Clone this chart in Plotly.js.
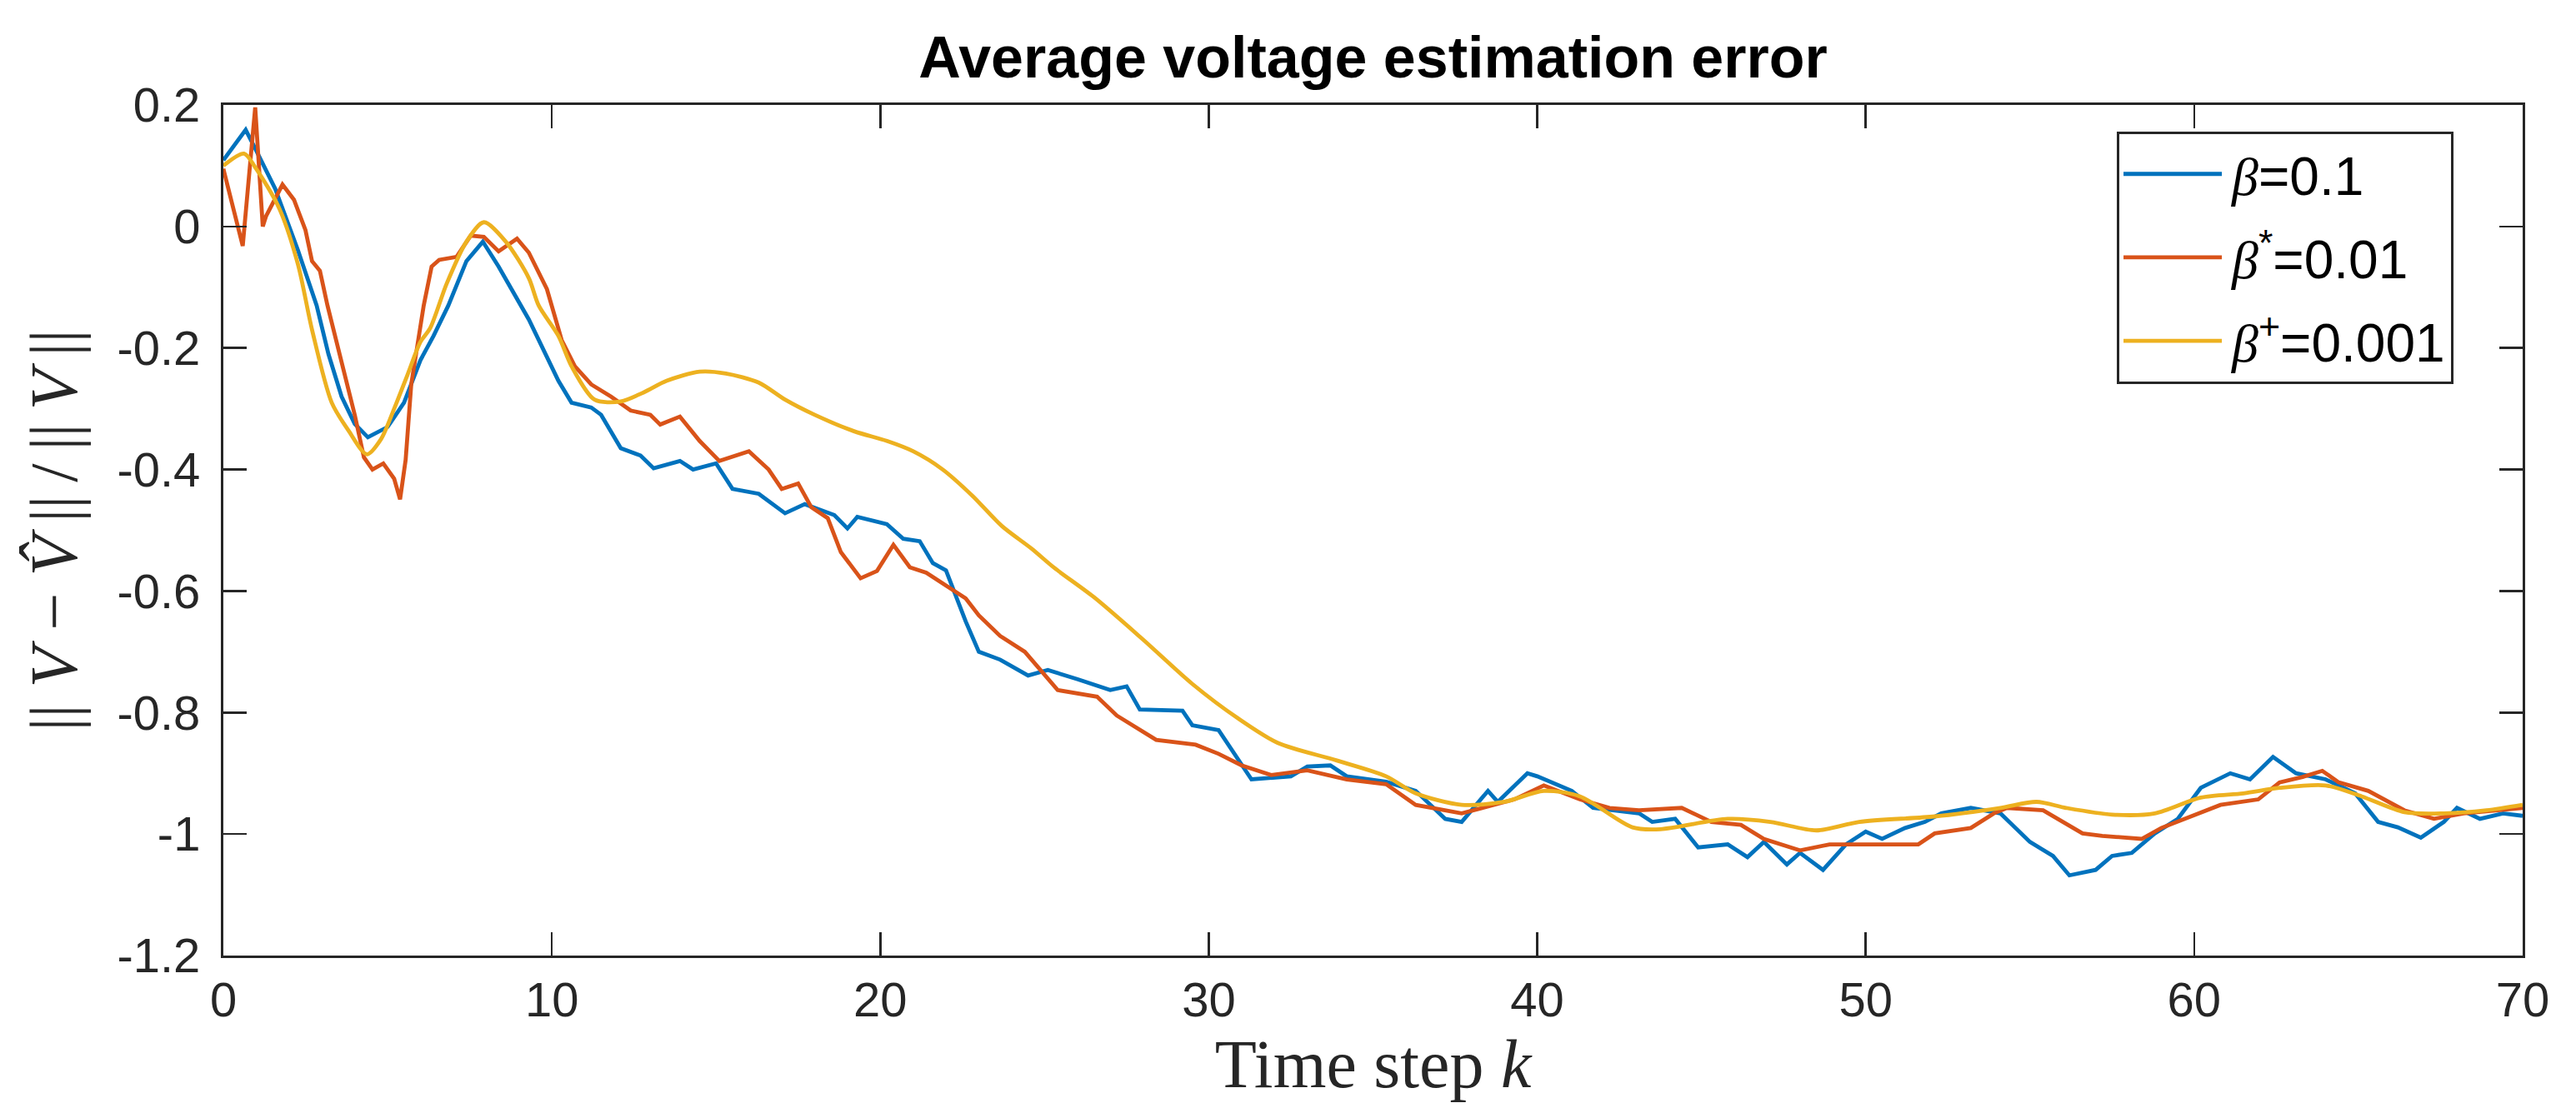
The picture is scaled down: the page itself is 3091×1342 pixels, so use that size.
<!DOCTYPE html>
<html>
<head>
<meta charset="utf-8">
<script src="https://cdn.plot.ly/plotly-3.0.1.min.js"></script>
<style>html,body{margin:0;padding:0;background:#fff;}#chart{width:3091px;height:1342px;}</style>
</head>
<body>
<div id="chart"></div>
<script>
// ---- data ----
const seriesNames = [
  '<span style="font-family:Liberation Serif"><i>β</i></span>=0.1',
  '<span style="font-family:Liberation Serif"><i>β</i></span><sup>*</sup>=0.01',
  '<span style="font-family:Liberation Serif"><i>β</i></span><sup>+</sup>=0.001'
];
const seriesColors = ['#0072BD', '#D95319', '#EDB120'];

const blueX = [0, 0.68, 1.0, 1.58, 2.27, 2.84, 3.2, 3.6, 4.0, 4.4,
  5.0, 5.5, 6.0, 6.4, 6.85, 7.4, 7.9, 8.38, 9.3, 10.2,
  10.6, 11.2, 11.5, 12.1, 12.7, 13.1, 13.9, 14.3, 15.0, 15.5,
  16.3, 17.1, 17.7, 18.6, 19.0, 19.3, 20.2, 20.7, 21.2, 21.6,
  22.0, 22.3, 22.6, 23.0, 23.65, 24.5, 25.1, 26.0, 27.0, 27.5,
  27.9, 29.2, 29.5, 30.3, 31.3, 32.5, 33.0, 33.7, 34.2, 35.4,
  36.3, 37.2, 37.7, 38.5, 38.8, 39.7, 40.0, 41.05, 41.7, 43.1,
  43.5, 44.2, 44.9, 45.8, 46.4, 46.9, 47.6, 48.0, 48.7, 49.4,
  50.0, 50.5, 51.2, 51.8, 52.3, 53.2, 54.1, 55.0, 55.7, 56.2,
  57.0, 57.5, 58.1, 58.8, 59.5, 60.2, 61.1, 61.7, 62.4, 63.1,
  64.0, 64.9, 65.6, 66.2, 66.9, 67.6, 68.0, 68.7, 69.4, 70.0];
const blueY = [0.109, 0.159, 0.125, 0.062, -0.039, -0.13, -0.21, -0.28, -0.325, -0.347,
  -0.33, -0.29, -0.22, -0.18, -0.13, -0.057, -0.025, -0.066, -0.153, -0.254,
  -0.29, -0.298, -0.31, -0.365, -0.377, -0.398, -0.386, -0.40, -0.39, -0.432,
  -0.44, -0.472, -0.457, -0.475, -0.497, -0.478, -0.49, -0.514, -0.518, -0.554,
  -0.566, -0.61, -0.65, -0.70, -0.713, -0.739, -0.73, -0.745, -0.763, -0.757,
  -0.795, -0.797, -0.821, -0.829, -0.91, -0.905, -0.889, -0.887, -0.905, -0.914,
  -0.929, -0.975, -0.98, -0.929, -0.947, -0.90, -0.905, -0.929, -0.957, -0.966,
  -0.98, -0.975, -1.022, -1.017, -1.038, -1.013, -1.05, -1.031, -1.059, -1.017,
  -0.996, -1.008, -0.99, -0.98, -0.966, -0.957, -0.966, -1.013, -1.036, -1.068,
  -1.059, -1.036, -1.031, -0.999, -0.975, -0.924, -0.90, -0.91, -0.873, -0.90,
  -0.91, -0.933, -0.98, -0.989, -1.006, -0.98, -0.957, -0.975, -0.966, -0.97];

const redX = [0, 0.59, 0.97, 1.2, 1.3, 1.8, 2.15, 2.5, 2.7, 2.94,
  3.17, 3.5, 3.8, 4.0, 4.28, 4.54, 4.87, 5.2, 5.38, 5.55,
  5.72, 5.89, 6.1, 6.34, 6.57, 7.1, 7.53, 7.93, 8.38, 8.94,
  9.3, 9.85, 10.3, 10.7, 11.2, 11.8, 12.4, 13.0, 13.3, 13.9,
  14.5, 15.1, 16.0, 16.6, 17.0, 17.5, 17.9, 18.4, 18.8, 19.4,
  19.9, 20.4, 20.9, 21.4, 22.0, 22.6, 23.0, 23.65, 24.4, 25.4,
  26.6, 27.2, 28.4, 29.6, 30.3, 31.0, 31.9, 33.0, 34.2, 35.4,
  36.3, 37.7, 39.3, 40.2, 41.3, 42.2, 43.1, 44.4, 45.3, 46.2,
  46.9, 48.0, 48.9, 50.3, 51.6, 52.1, 53.2, 53.9, 54.3, 55.4,
  56.6, 57.2, 58.4, 59.0, 59.9, 60.8, 61.95, 62.6, 63.3, 63.9,
  64.4, 65.3, 66.4, 67.3, 68.2, 69.1, 70.0];
const redY = [0.095, -0.032, 0.196, 0.0, 0.017, 0.069, 0.044, -0.006, -0.057, -0.073,
  -0.13, -0.2, -0.27, -0.31, -0.38, -0.40, -0.39, -0.415, -0.449, -0.384,
  -0.26, -0.2, -0.13, -0.066, -0.055, -0.05, -0.015, -0.017, -0.041, -0.02,
  -0.043, -0.103, -0.187, -0.23, -0.26, -0.28, -0.303, -0.31, -0.326, -0.313,
  -0.353, -0.386, -0.37, -0.40, -0.432, -0.423, -0.462, -0.48, -0.536, -0.579,
  -0.567, -0.524, -0.561, -0.57, -0.591, -0.612, -0.64, -0.674, -0.70, -0.763,
  -0.774, -0.805, -0.845, -0.853, -0.868, -0.887, -0.903, -0.895, -0.91, -0.918,
  -0.952, -0.966, -0.943, -0.92, -0.943, -0.957, -0.961, -0.957, -0.98, -0.985,
  -1.008, -1.027, -1.017, -1.017, -1.017, -0.999, -0.99, -0.966, -0.957, -0.961,
  -0.999, -1.003, -1.008, -0.99, -0.971, -0.952, -0.943, -0.915, -0.906, -0.896,
  -0.915, -0.929, -0.961, -0.975, -0.966, -0.961, -0.957];

const yellowX = [0, 0.63, 1.0, 1.7, 2.27, 2.7, 3.3, 3.8, 4.37, 4.8,
  5.2, 5.6, 6.0, 6.3, 6.8, 7.4, 7.93, 8.6, 9.3, 9.6,
  10.2, 10.6, 11.3, 12.1, 12.8, 13.5, 14.5, 15.3, 16.3, 17.1,
  18.0, 19.2, 20.2, 21.0, 21.9, 22.8, 23.7, 24.6, 25.3, 26.5,
  28.0, 29.5, 30.9, 32.1, 33.9, 35.4, 36.3, 37.7, 39.0, 40.2,
  41.3, 42.9, 43.75, 45.8, 47.1, 48.5, 49.8, 52.1, 54.1, 55.2,
  56.1, 57.5, 58.8, 60.2, 61.5, 62.6, 64.0, 65.1, 66.4, 67.6,
  68.9, 70.0];
const yellowY = [0.10, 0.12, 0.095, 0.03, -0.062, -0.17, -0.29, -0.335, -0.375, -0.35,
  -0.30, -0.245, -0.19, -0.167, -0.094, -0.025, 0.007, -0.025, -0.085, -0.13,
  -0.18, -0.23, -0.285, -0.288, -0.273, -0.254, -0.239, -0.242, -0.257, -0.285,
  -0.31, -0.337, -0.353, -0.37, -0.40, -0.443, -0.493, -0.53, -0.562, -0.61,
  -0.68, -0.753, -0.81, -0.85, -0.879, -0.905, -0.933, -0.952, -0.947, -0.929,
  -0.938, -0.989, -0.992, -0.975, -0.98, -0.994, -0.98, -0.971, -0.957, -0.947,
  -0.957, -0.968, -0.966, -0.94, -0.933, -0.924, -0.92, -0.938, -0.964, -0.966,
  -0.961, -0.952];

const xTickVals = [0, 10, 20, 30, 40, 50, 60, 70];
const xTickText = ['0', '10', '20', '30', '40', '50', '60', '70'];
const yTickVals = [-1.2, -1, -0.8, -0.6, -0.4, -0.2, 0, 0.2];
const yTickText = ['-1.2', '-1', '-0.8', '-0.6', '-0.4', '-0.2', '0', '0.2'];

const titleText = '<b>Average voltage estimation error</b>';
const xTitleText = 'Time step <i>k</i>';
const TS = '\u2009';
const yTitleText = '|| <i>V</i> − <i>V̂</i>' + TS + '||' + TS + '/' + TS + '||' + TS + '<i>V</i>' + TS + '||';

// ---- chart ----
const xs = [blueX, redX, yellowX];
const ys = [blueY, redY, yellowY];
const traces = xs.map((x, i) => ({
  x: x, y: ys[i], type: 'scatter', mode: 'lines', name: seriesNames[i],
  legendgroup: 'g' + i,
  line: {color: seriesColors[i], width: 4.8, shape: i === 2 ? 'spline' : 'linear', smoothing: 0.8}
}));

const axisCommon = {
  showline: true, mirror: 'ticks', linecolor: '#262626', linewidth: 3,
  ticks: 'inside', ticklen: 28, tickwidth: 2.5, tickcolor: '#262626',
  showgrid: false, zeroline: false,
  tickfont: {family: 'Liberation Sans, Arial, sans-serif', size: 58, color: '#262626'}
};

const layout = {
  width: 3091, height: 1342,
  paper_bgcolor: '#fff', plot_bgcolor: '#fff',
  margin: {l: 268, r: 64, t: 126, b: 195},
  showlegend: true,
  title: {text: titleText, x: 0.5, xref: 'paper', y: 0.9486, yref: 'container', yanchor: 'middle',
    font: {family: 'Liberation Sans, Arial, sans-serif', size: 70, color: '#000'}},
  xaxis: Object.assign({}, axisCommon, {
    range: [0, 70], tickvals: xTickVals, ticktext: xTickText,
    title: {text: xTitleText, standoff: 8, font: {family: 'Liberation Serif, DejaVu Serif, serif', size: 82, color: '#262626'}}
  }),
  yaxis: Object.assign({}, axisCommon, {
    range: [-1.2, 0.2], tickvals: yTickVals, ticktext: yTickText, ticklabelstandoff: 13,
    title: {text: yTitleText, standoff: 22, font: {family: 'Liberation Serif, DejaVu Serif, serif', size: 80, color: '#262626'}}
  }),
  legend: {
    x: 0.8235, xanchor: 'left', y: 0.969, yanchor: 'top',
    bgcolor: '#fff', bordercolor: '#262626', borderwidth: 3,
    font: {family: 'Liberation Sans, Arial, sans-serif', size: 64, color: '#000'},
    tracegroupgap: 14, itemwidth: 125
  }
};

Plotly.newPlot('chart', traces, layout, {displayModeBar: false, staticPlot: true}).then(gd => {
  // lengthen the legend line samples to match the reference
  gd.querySelectorAll('.legend .legendlines path').forEach(p => p.setAttribute('d', 'M5,0h118'));
});
</script>
</body>
</html>
